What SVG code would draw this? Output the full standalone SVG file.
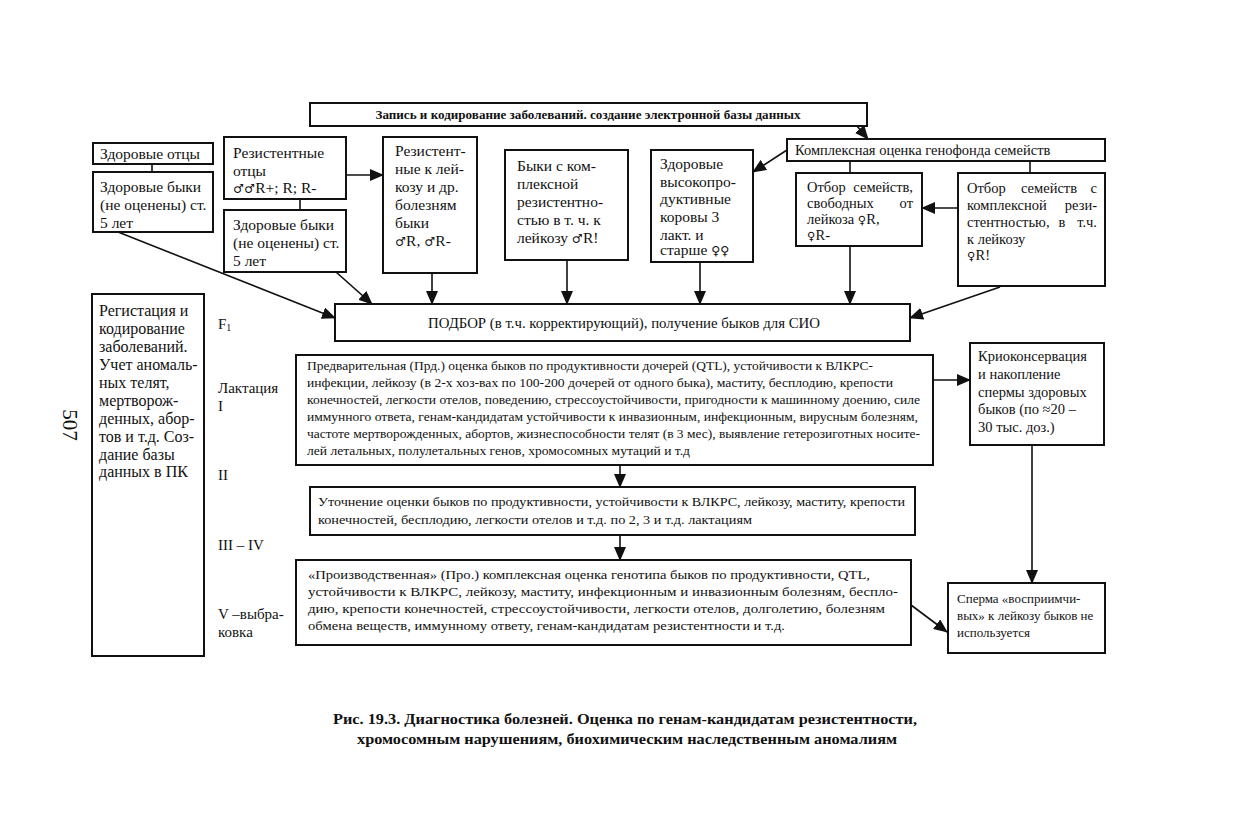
<svg xmlns="http://www.w3.org/2000/svg" width="1233" height="826" viewBox="0 0 1233 826">
<defs>
<marker id="ah" markerUnits="userSpaceOnUse" markerWidth="14" markerHeight="12" viewBox="0 0 14 12" refX="13" refY="6" orient="auto">
<path d="M0,0 L14,6 L0,12 Z" fill="#111"/>
</marker>
</defs>
<style>
rect.b{fill:#fff;stroke:#111;stroke-width:2}
text{font-family:"Liberation Serif","Times New Roman",serif;fill:#111;font-size:14px}
text.s{font-size:12px}
text.m{font-size:14.5px}
text.k{font-size:15.5px}
text.l{font-size:16px}
text.sp{font-size:13px}
text.lab{font-size:15px}
text.bd{font-weight:bold}
text.cap{font-size:15px;font-weight:bold}
text.pg{font-size:21px}
tspan.sub{font-size:10px}
tspan.g{font-family:"DejaVu Serif","DejaVu Sans",serif;font-size:0.8em}
#connectors line{stroke:#111;stroke-width:1.6;fill:none}
#connectors line.a{marker-end:url(#ah)}
</style>
<rect width="1233" height="826" fill="#fff"/>

<g id="connectors">
<line class="a" x1="857" y1="126" x2="868" y2="139"/>
<line class="a" x1="787" y1="150" x2="753" y2="172"/>
<line x1="850" y1="161" x2="850" y2="173"/>
<line x1="1030" y1="161" x2="1030" y2="173"/>
<line class="a" x1="958" y1="208" x2="922" y2="208"/>
<line class="a" x1="850" y1="246" x2="850" y2="304"/>
<line class="a" x1="1000" y1="287" x2="910" y2="318"/>
<line x1="152" y1="164" x2="152" y2="172"/>
<line class="a" x1="118" y1="232" x2="335" y2="318"/>
<line class="a" x1="346" y1="175" x2="383" y2="175"/>
<line x1="300" y1="199" x2="300" y2="210"/>
<line class="a" x1="336" y1="272" x2="372" y2="304"/>
<line class="a" x1="432" y1="273" x2="432" y2="304"/>
<line class="a" x1="567" y1="260" x2="567" y2="304"/>
<line class="a" x1="700" y1="262" x2="700" y2="304"/>
<line class="a" x1="933" y1="380" x2="970" y2="380"/>
<line class="a" x1="620" y1="465" x2="620" y2="487"/>
<line class="a" x1="620" y1="535" x2="620" y2="560"/>
<line class="a" x1="1032" y1="445" x2="1032" y2="583"/>
<line class="a" x1="911" y1="605" x2="947" y2="632"/>
</g>

<g id="n-top">
<rect class="b" x="310" y="103" width="557" height="23"/>
<text class="bd s" x="588" y="119" text-anchor="middle" textLength="425" lengthAdjust="spacingAndGlyphs">Запись и кодирование заболеваний. создание электронной базы данных</text>
</g>

<g id="n-kompl">
<rect class="b" x="787" y="139" width="318" height="22"/>
<text class="m" x="795" y="155">Комплексная оценка генофонда семейств</text>
</g>

<g id="n-otbor1">
<rect class="b" x="796" y="173" width="126" height="73"/>
<text class="m" x="807" y="192">Отбор</text>
<text class="m" x="913" y="192" text-anchor="end">семейств,</text>
<text class="m" x="807" y="208">свободных</text>
<text class="m" x="913" y="208" text-anchor="end">от</text>
<text class="m" x="807" y="224">лейкоза <tspan class="g">♀</tspan>R,</text>
<text class="m" x="807" y="240"><tspan class="g">♀</tspan>R-</text>
</g>

<g id="n-otbor2">
<rect class="b" x="958" y="173" width="147" height="113"/>
<text class="m" x="967" y="193">Отбор</text>
<text class="m" x="1021" y="193">семейств</text>
<text class="m" x="1097" y="193" text-anchor="end">с</text>
<text class="m" x="967" y="210">комплексной</text>
<text class="m" x="1097" y="210" text-anchor="end">рези-</text>
<text class="m" x="967" y="227">стентностью,</text>
<text class="m" x="1062" y="227" text-anchor="middle">в</text>
<text class="m" x="1097" y="227" text-anchor="end">т.ч.</text>
<text class="m" x="967" y="244">к лейкозу</text>
<text class="m" x="967" y="260"><tspan class="g">♀</tspan>R!</text>
</g>

<g id="n-zdor-otcy">
<rect class="b" x="93" y="143" width="120" height="21"/>
<text class="k" x="100" y="159">Здоровые отцы</text>
</g>

<g id="n-zdor-byki1">
<rect class="b" x="93" y="172" width="120" height="60"/>
<text class="k" x="100" y="192">Здоровые быки</text>
<text class="k" x="100" y="210">(не оценены) ст.</text>
<text class="k" x="100" y="228">5 лет</text>
</g>

<g id="n-rez-otcy">
<rect class="b" x="224" y="137" width="122" height="62"/>
<text class="k" x="233" y="158">Резистентные</text>
<text class="k" x="233" y="176">отцы</text>
<text class="k" x="233" y="193"><tspan class="g">♂♂</tspan>R+; R; R-</text>
</g>

<g id="n-zdor-byki2">
<rect class="b" x="224" y="210" width="122" height="62"/>
<text class="k" x="233" y="230">Здоровые быки</text>
<text class="k" x="233" y="248">(не оценены) ст.</text>
<text class="k" x="233" y="266">5 лет</text>
</g>

<g id="n-rez-leik">
<rect class="b" x="383" y="137" width="94" height="136"/>
<text class="k" x="395" y="156">Резистент-</text>
<text class="k" x="395" y="174">ные к лей-</text>
<text class="k" x="395" y="192">козу и др.</text>
<text class="k" x="395" y="210">болезням</text>
<text class="k" x="395" y="228">быки</text>
<text class="k" x="395" y="246"><tspan class="g">♂</tspan>R, <tspan class="g">♂</tspan>R-</text>
</g>

<g id="n-byki-kompl">
<rect class="b" x="505" y="150" width="123" height="110"/>
<text class="k" x="517" y="171">Быки с ком-</text>
<text class="k" x="517" y="189">плексной</text>
<text class="k" x="517" y="207">резистентно-</text>
<text class="k" x="517" y="225">стью в т. ч. к</text>
<text class="k" x="517" y="243">лейкозу <tspan class="g">♂</tspan>R!</text>
</g>

<g id="n-korovy">
<rect class="b" x="651" y="150" width="102" height="112"/>
<text class="k" x="660" y="169">Здоровые</text>
<text class="k" x="660" y="187">высокопро-</text>
<text class="k" x="660" y="204">дуктивные</text>
<text class="k" x="660" y="222">коровы 3</text>
<text class="k" x="660" y="240">лакт. и</text>
<text class="k" x="660" y="255">старше <tspan class="g">♀♀</tspan></text>
</g>

<g id="n-podbor">
<rect class="b" x="335" y="304" width="575" height="37"/>
<text class="lab" x="624" y="328" text-anchor="middle" textLength="392" lengthAdjust="spacingAndGlyphs">ПОДБОР (в т.ч. корректирующий), получение быков для СИО</text>
</g>

<g id="n-registr">
<rect class="b" x="92" y="294" width="112" height="362"/>
<text class="l" x="99" y="316">Регистация и</text>
<text class="l" x="99" y="334">кодирование</text>
<text class="l" x="99" y="352">заболеваний.</text>
<text class="l" x="99" y="370">Учет аномаль-</text>
<text class="l" x="99" y="388">ных телят,</text>
<text class="l" x="99" y="406">мертворож-</text>
<text class="l" x="99" y="424">денных, абор-</text>
<text class="l" x="99" y="442">тов и т.д. Соз-</text>
<text class="l" x="99" y="460">дание базы</text>
<text class="l" x="99" y="477">данных в ПК</text>
</g>

<g id="labels">
<text class="lab" x="218" y="329">F<tspan class="sub" dy="2">1</tspan></text>
<text class="lab" x="218" y="393">Лактация</text>
<text class="lab" x="218" y="411">I</text>
<text class="lab" x="218" y="480">II</text>
<text class="lab" x="218" y="550">III – IV</text>
<text class="lab" x="218" y="619">V –выбра-</text>
<text class="lab" x="218" y="637">ковка</text>
<text class="pg" x="70" y="425" text-anchor="middle" transform="rotate(90 70 425)" dy="7">507</text>
</g>

<g id="n-prd">
<rect class="b" x="296" y="355" width="637" height="110"/>
<text class="s" x="307" y="370" textLength="566" lengthAdjust="spacingAndGlyphs">Предварительная (Прд.) оценка быков по продуктивности дочерей (QTL), устойчивости к ВЛКРС-</text>
<text class="s" x="307" y="387" textLength="586" lengthAdjust="spacingAndGlyphs">инфекции, лейкозу (в 2-х хоз-вах по 100-200 дочерей от одного быка), маститу, бесплодию, крепости</text>
<text class="s" x="307" y="404" textLength="613" lengthAdjust="spacingAndGlyphs">конечностей, легкости отелов, поведению, стрессоустойчивости, пригодности к машинному доению, силе</text>
<text class="s" x="307" y="421" textLength="611" lengthAdjust="spacingAndGlyphs">иммунного ответа, генам-кандидатам устойчивости к инвазионным, инфекционным, вирусным болезням,</text>
<text class="s" x="307" y="438" textLength="613" lengthAdjust="spacingAndGlyphs">частоте мертворожденных, абортов, жизнеспособности телят (в 3 мес), выявление гетерозиготных носите-</text>
<text class="s" x="307" y="455" textLength="383" lengthAdjust="spacingAndGlyphs">лей летальных, полулетальных генов, хромосомных мутаций и т.д</text>
</g>

<g id="n-krio">
<rect class="b" x="970" y="343" width="134" height="102"/>
<text class="m" x="978" y="361">Криоконсервация</text>
<text class="m" x="978" y="379">и накопление</text>
<text class="m" x="978" y="397">спермы здоровых</text>
<text class="m" x="978" y="414">быков (по ≈20 –</text>
<text class="m" x="978" y="432">30 тыс. доз.)</text>
</g>

<g id="n-utoch">
<rect class="b" x="310" y="487" width="605" height="48"/>
<text class="s" x="318" y="506" textLength="587" lengthAdjust="spacingAndGlyphs">Уточнение оценки быков по продуктивности, устойчивости к ВЛКРС, лейкозу, маститу, крепости</text>
<text class="s" x="318" y="524" textLength="434" lengthAdjust="spacingAndGlyphs">конечностей, бесплодию, легкости отелов и т.д. по 2, 3 и т.д. лактациям</text>
</g>

<g id="n-pro">
<rect class="b" x="296" y="560" width="615" height="85"/>
<text class="s" x="308" y="579" textLength="562" lengthAdjust="spacingAndGlyphs">«Производственная» (Про.) комплексная оценка генотипа быков по продуктивности, QTL,</text>
<text class="s" x="308" y="596" textLength="590" lengthAdjust="spacingAndGlyphs">устойчивости к ВЛКРС, лейкозу, маститу, инфекционным и инвазионным болезням, беспло-</text>
<text class="s" x="308" y="613" textLength="577" lengthAdjust="spacingAndGlyphs">дию, крепости конечностей, стрессоустойчивости, легкости отелов, долголетию, болезням</text>
<text class="s" x="308" y="630" textLength="477" lengthAdjust="spacingAndGlyphs">обмена веществ,  иммунному ответу, генам-кандидатам резистентности и т.д.</text>
</g>

<g id="n-sperma">
<rect class="b" x="948" y="583" width="157" height="70"/>
<text class="sp" x="957" y="603">Сперма «восприимчи-</text>
<text class="sp" x="957" y="620">вых» к лейкозу быков не</text>
<text class="sp" x="957" y="637">используется</text>
</g>

<g id="caption">
<text class="cap" x="625" y="724" text-anchor="middle" textLength="584" lengthAdjust="spacingAndGlyphs">Рис. 19.3. Диагностика болезней. Оценка по генам-кандидатам резистентности,</text>
<text class="cap" x="627" y="744" text-anchor="middle" textLength="540" lengthAdjust="spacingAndGlyphs">хромосомным нарушениям, биохимическим наследственным аномалиям</text>
</g>
</svg>
